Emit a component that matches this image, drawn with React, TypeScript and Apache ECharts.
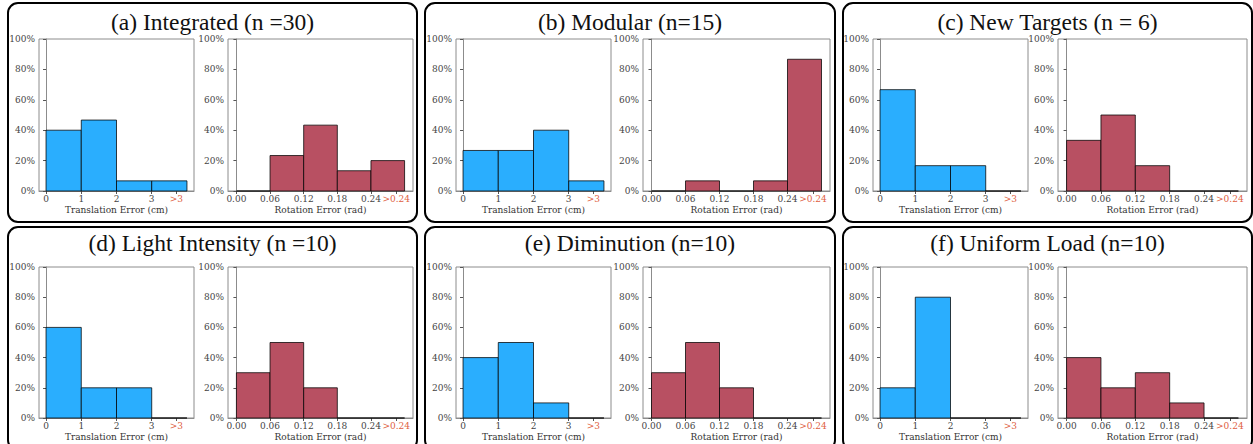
import React, { useEffect, useRef } from "react";
import * as echarts from "echarts";

// ---- data ----
const panelTitles = [
  "(a) Integrated (n =30)",
  "(b) Modular (n=15)",
  "(c) New Targets (n = 6)",
  "(d) Light Intensity (n =10)",
  "(e) Diminution (n=10)",
  "(f) Uniform Load (n=10)",
];

const transEdges = [0, 1, 2, 3, 4];
const rotEdges = [0, 0.06, 0.12, 0.18, 0.24, 0.3];

const transTickValues = [0, 1, 2, 3, 3.7];
const transTickLabels = ["0", "1", "2", "3", ">3"];
const rotTickValues = [0, 0.06, 0.12, 0.18, 0.24, 0.285];
const rotTickLabels = ["0.00", "0.06", "0.12", "0.18", "0.24", ">0.24"];

const integratedTrans = [40, 46.67, 6.67, 6.67];
const integratedRot = [0, 23.33, 43.33, 13.33, 20];
const modularTrans = [26.67, 26.67, 40, 6.67];
const modularRot = [0, 6.67, 0, 6.67, 86.67];
const newTargetsTrans = [66.67, 16.67, 16.67, 0];
const newTargetsRot = [33.33, 50, 16.67, 0, 0];
const lightTrans = [60, 20, 20, 0];
const lightRot = [30, 50, 20, 0, 0];
const diminutionTrans = [40, 50, 10, 0];
const diminutionRot = [30, 50, 20, 0, 0];
const uniformTrans = [20, 80, 0, 0];
const uniformRot = [40, 20, 30, 10, 0];

const transSets = [integratedTrans, modularTrans, newTargetsTrans, lightTrans, diminutionTrans, uniformTrans];
const rotSets = [integratedRot, modularRot, newTargetsRot, lightRot, diminutionRot, uniformRot];

// ---- layout ----
const cols = [
  { box: [8, 417], L: [39, 194], R: [228, 413] },
  { box: [425, 835], L: [456, 611], R: [643, 830] },
  { box: [843, 1252], L: [873, 1028], R: [1058, 1247] },
];
const rows = [
  { box: [3, 222], top: 39, bottom: 191, titleY: 22 },
  { box: [227, 450], top: 267, bottom: 418, titleY: 243 },
];

const BLUE = "#2AAEFE";
const RED = "#B85062";
const HIGHLIGHT = "#E0603F";
const TICK_FONT = "DejaVu Serif";
const TITLE_FONT = "Liberation Serif";
const SPINE = "#8c8c8c";

function binsToData(edges: number[], values: number[]) {
  return values.map((v, i) => [edges[i], edges[i + 1], v]);
}

function buildOption() {
  const grid: any[] = [];
  const xAxis: any[] = [];
  const yAxis: any[] = [];
  const series: any[] = [];
  const graphic: any[] = [];

  panelTitles.forEach((title, p) => {
    const c = cols[p % 3];
    const r = rows[Math.floor(p / 3)];
    graphic.push({
      type: "rect",
      shape: { x: c.box[0], y: r.box[0], width: c.box[1] - c.box[0], height: r.box[1] - r.box[0], r: 10 },
      style: { fill: "none", stroke: "#000", lineWidth: 2 },
      silent: true,
    });
    graphic.push({
      type: "text",
      x: (c.box[0] + c.box[1]) / 2,
      y: r.titleY,
      style: {
        text: title,
        fontFamily: TITLE_FONT,
        fontSize: 23.5,
        fill: "#111",
        textAlign: "center",
        textVerticalAlign: "middle",
      },
      silent: true,
    });

    const plots = [
      {
        span: c.L,
        data: binsToData(transEdges, transSets[p]),
        color: BLUE,
        min: -0.2,
        max: 4.2,
        ticks: transTickValues,
        labels: transTickLabels,
        name: "Translation Error (cm)",
      },
      {
        span: c.R,
        data: binsToData(rotEdges, rotSets[p]),
        color: RED,
        min: -0.015,
        max: 0.315,
        ticks: rotTickValues,
        labels: rotTickLabels,
        name: "Rotation Error (rad)",
      },
    ];

    plots.forEach((pl) => {
      const idx = grid.length;
      grid.push({
        left: pl.span[0],
        width: pl.span[1] - pl.span[0],
        top: r.top,
        height: r.bottom - r.top,
        show: true,
        borderColor: SPINE,
        borderWidth: 1,
        backgroundColor: "transparent",
      });
      const ticks = pl.ticks;
      const labels = pl.labels;
      const last = ticks[ticks.length - 1];
      xAxis.push({
        gridIndex: idx,
        type: "value",
        min: pl.min,
        max: pl.max,
        splitLine: { show: false },
        axisLine: { show: true, onZero: false, lineStyle: { color: SPINE } },
        axisTick: { show: true, length: 3, customValues: ticks, lineStyle: { color: "#555" } },
        axisLabel: {
          customValues: ticks,
          margin: 3,
          fontFamily: TICK_FONT,
          fontSize: 9,
          color: "#444",
          formatter: (v: number) => {
            const i = ticks.findIndex((t) => Math.abs(t - v) < 1e-6);
            const s = i >= 0 ? labels[i] : "";
            return Math.abs(v - last) < 1e-6 ? "{hl|" + s + "}" : s;
          },
          rich: { hl: { color: HIGHLIGHT, fontFamily: TICK_FONT, fontSize: 9 } },
        },
        name: pl.name,
        nameLocation: "middle",
        nameGap: 14,
        nameTextStyle: { fontFamily: TICK_FONT, fontSize: 9, color: "#333" },
      });
      yAxis.push({
        gridIndex: idx,
        type: "value",
        min: 0,
        max: 100,
        interval: 20,
        splitLine: { show: false },
        axisLine: { show: true, lineStyle: { color: SPINE } },
        axisTick: { show: true, length: 3, lineStyle: { color: "#555" } },
        axisLabel: {
          formatter: "{value}%",
          margin: 4,
          fontFamily: TICK_FONT,
          fontSize: 9,
          color: "#444",
        },
      });
      const color = pl.color;
      series.push({
        type: "custom",
        xAxisIndex: idx,
        yAxisIndex: idx,
        data: pl.data,
        encode: { x: [0, 1], y: 2 },
        renderItem: (params: any, api: any) => {
          const s = api.value(0);
          const e = api.value(1);
          const v = api.value(2);
          const p0 = api.coord([s, v]);
          const p1 = api.coord([e, 0]);
          return {
            type: "rect",
            shape: { x: p0[0], y: p0[1], width: p1[0] - p0[0], height: p1[1] - p0[1] },
            style: { fill: color, stroke: "rgba(0,0,0,0.75)", lineWidth: 1 },
          };
        },
      });
    });
  });

  return { animation: false, backgroundColor: "#fff", grid, xAxis, yAxis, series, graphic };
}

export default function App() {
  const ref = useRef<HTMLDivElement>(null);
  useEffect(() => {
    if (!ref.current) return;
    const chart = echarts.init(ref.current, undefined, { renderer: "svg" });
    chart.setOption(buildOption() as any);
    return () => chart.dispose();
  }, []);
  return (
    <div
      ref={ref}
      style={{ position: "absolute", left: 0, top: 0, width: 1253, height: 444, background: "#fff" }}
    />
  );
}
